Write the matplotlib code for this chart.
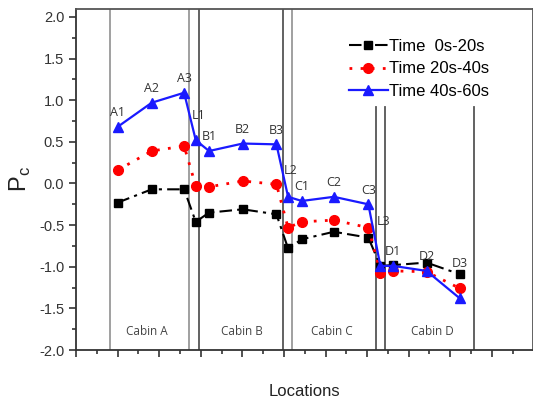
import matplotlib
matplotlib.use("Agg")
import matplotlib.pyplot as plt
from matplotlib.ticker import MultipleLocator, NullFormatter, FormatStrFormatter

plt.rcParams["axes.unicode_minus"] = False
plt.rcParams["font.family"] = ["Liberation Sans", "DejaVu Sans"]

# location names and their positions along the x axis
points = ["A1", "A2", "A3", "L1", "B1", "B2", "B3", "L2",
          "C1", "C2", "C3", "L3", "D1", "D2", "D3"]
x_pos = [1.00, 1.82, 2.60, 2.88, 3.20, 4.01, 4.82, 5.10,
         5.43, 6.20, 7.03, 7.32, 7.63, 8.43, 9.23]

pc_0_20 = [-0.23, -0.07, -0.07, -0.46, -0.35, -0.31, -0.37, -0.78,
           -0.67, -0.58, -0.65, -0.99, -0.98, -0.95, -1.09]
pc_20_40 = [0.16, 0.39, 0.45, -0.03, -0.04, 0.03, -0.01, -0.53,
            -0.46, -0.44, -0.53, -1.07, -1.05, -1.06, -1.26]
pc_40_60 = [0.68, 0.97, 1.09, 0.52, 0.39, 0.48, 0.47, -0.16,
            -0.21, -0.16, -0.25, -0.99, -0.99, -1.05, -1.38]

# cabin boundary lines and cabin names
walls = [0.82, 2.72, 2.96, 4.97, 5.20, 7.22, 7.44, 9.57]
wall_colors = ["#999999", "#999999", "#555555", "#555555", "#999999",
               "#555555", "#555555", "#555555"]
cabins = ["Cabin A", "Cabin B", "Cabin C", "Cabin D"]
cabin_x = [1.70, 3.99, 6.15, 8.56]

fig = plt.figure(figsize=(5.33, 4.03), dpi=100)
ax = fig.add_axes([0.1426, 0.1315, 0.8574, 0.8462])

for w, c in zip(walls, wall_colors):
    top = 1.0 if w < 7 else 0.712
    ax.axvline(w, ymin=0, ymax=top, color=c, lw=1.3, zorder=1)

ax.plot(x_pos, pc_0_20, color="black", ls=(0, (6, 2.5, 1.5, 2.5)), lw=1.5,
        marker="s", ms=5.5, label="Time  0s-20s", zorder=3)
ax.plot(x_pos, pc_20_40, color="red", ls=(0, (1, 3)), lw=2,
        marker="o", ms=7, label="Time 20s-40s", zorder=3)
ax.plot(x_pos, pc_40_60, color="#1a1aff", ls="-", lw=1.6,
        marker="^", ms=7, label="Time 40s-60s", zorder=4)

# point labels sit above the top curve
offsets = {"L1": (0.08, 0.30), "L2": (0.07, 0.32), "L3": (0.07, 0.53),
           "D3": (0.0, 0.42)}
for name, x, y in zip(points, x_pos, pc_40_60):
    dx, dy = offsets.get(name, (0.0, 0.17))
    ax.text(x + dx, y + dy, name, ha="center", va="center",
            fontsize=9, color="#333333", family="Open Sans")

for name, x in zip(cabins, cabin_x):
    ax.text(x, -1.78, name, ha="center", va="center",
            fontsize=8.5, color="#444444", family="Open Sans")

ax.set_xlim(0, 10.99)
ax.set_ylim(-2.0, 2.096)
ax.xaxis.set_major_locator(MultipleLocator(1))
ax.xaxis.set_minor_locator(MultipleLocator(0.5))
ax.xaxis.set_major_formatter(NullFormatter())
ax.yaxis.set_major_locator(MultipleLocator(0.5))
ax.yaxis.set_minor_locator(MultipleLocator(0.25))
ax.yaxis.set_major_formatter(FormatStrFormatter("%.1f"))
ax.tick_params(axis="both", which="major", direction="out", length=5,
               width=1.2, labelsize=10.5, colors="#333333")
ax.tick_params(axis="both", which="minor", direction="out", length=3,
               width=1.2, colors="#333333")
for s in ax.spines.values():
    s.set_color("#555555")
    s.set_linewidth(1.3)
ax.spines["left"].set_color("#333333")
ax.spines["bottom"].set_color("#333333")

ax.set_ylabel(r"P$_\mathregular{c}$", fontsize=17, color="#222222", labelpad=4)
ax.set_xlabel("Locations", fontsize=12, color="#222222", labelpad=16)

ax.legend(loc="upper left", bbox_to_anchor=(0.598, 0.912), frameon=False,
          fontsize=12, handlelength=2.3, handletextpad=0.1,
          labelspacing=0.45, borderaxespad=0, borderpad=0)

fig.savefig("out.png", dpi=100)
